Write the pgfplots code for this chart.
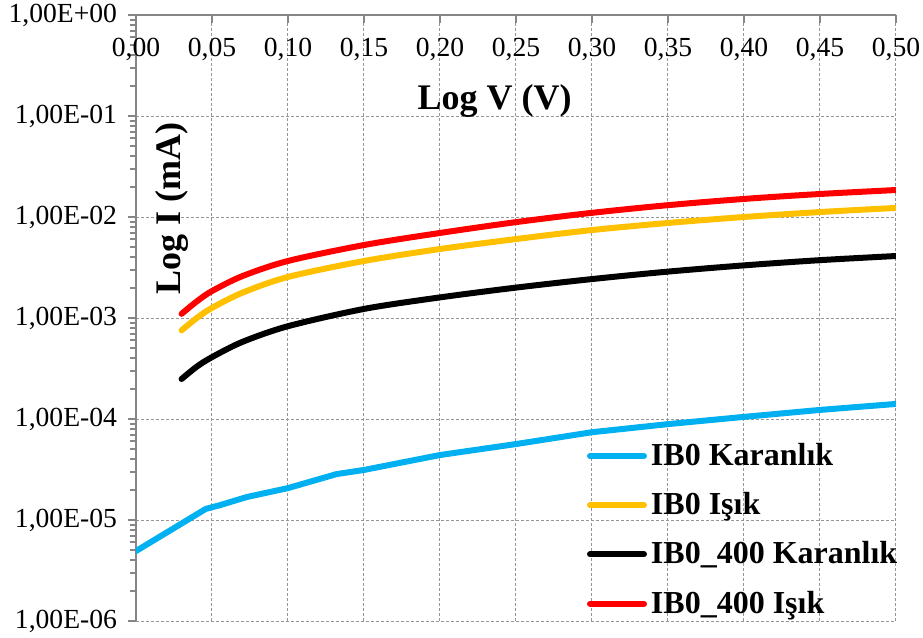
\documentclass[border=0pt]{standalone}
\usepackage{fontspec}
\setmainfont{Liberation Serif}
\usepackage{pgfplots}
\pgfplotsset{compat=1.18}

\definecolor{ibblue}{RGB}{0,176,240}
\definecolor{ibyellow}{RGB}{255,192,0}
\definecolor{ibred}{RGB}{255,0,0}
\definecolor{axisgray}{RGB}{134,134,134}
\definecolor{gridgray}{RGB}{150,150,150}

\begin{document}
\begin{tikzpicture}
\useasboundingbox (-68pt,-8.5pt) rectangle (393.5pt,310.5pt);
\begin{axis}[
  scale only axis,
  width=380pt, height=303pt,
  xmin=0, xmax=0.5,
  ymode=log, ymin=1e-6, ymax=1,
  axis x line*=top, axis y line*=left,
  x axis line style={-, axisgray, line width=1pt},
  y axis line style={-, axisgray, line width=1pt},
  xtick={0,0.05,0.1,0.15,0.2,0.25,0.3,0.35,0.4,0.45,0.5},
  xticklabels={{0,00},{0,05},{0,10},{0,15},{0,20},{0,25},{0,30},{0,35},{0,40},{0,45},{0,50}},
  ytick={1e-6,1e-5,1e-4,1e-3,1e-2,1e-1,1},
  yticklabels={{1,00E-06},{1,00E-05},{1,00E-04},{1,00E-03},{1,00E-02},{1,00E-01},{1,00E+00}},
  minor ytick={},
  xtick align=inside, ytick align=outside,
  major tick length=4pt,
  tick style={axisgray, line width=1pt},
  ticklabel style={font=\fontsize{13.8}{16}\selectfont},
  xticklabel style={anchor=north, yshift=-8pt},
  yticklabel style={xshift=-2pt},
  grid=major,
  grid style={gridgray, line width=0.5pt, dash pattern=on 1.5pt off 1pt},
  xlabel={\textbf{Log V (V)}},
  xlabel style={at={(rel axis cs:0.472,0.858)}, anchor=center, font=\fontsize{18}{21}\selectfont},
  ylabel={\textbf{Log I (mA)}},
  ylabel style={at={(rel axis cs:0.047,0.68)}, anchor=center, font=\fontsize{18}{21}\selectfont},
  legend style={at={(rel axis cs:0.585,0.307)}, anchor=north west, draw=none, fill=none,
    font=\fontsize{16}{19}\selectfont\bfseries, row sep=8pt},
  legend cell align=left,
  legend image code/.code={\draw[#1, line cap=round] (0pt,0pt) -- (27pt,0pt);},
  every axis plot/.append style={line width=3pt, line cap=round, line join=round},
]
\addplot[ibblue] table {
0     4.93e-6
0.046 1.29e-5
0.055 1.40e-5
0.073 1.69e-5
0.1   2.07e-5
0.132 2.85e-5
0.15  3.13e-5
0.2   4.40e-5
0.25  5.65e-5
0.3   7.40e-5
0.35  8.90e-5
0.4   1.05e-4
0.45  1.23e-4
0.5   1.41e-4
};
\addlegendentry{IB0 Karanlık}
\addplot[ibyellow, smooth] table {
0.03 7.55e-4
0.04 1.00e-3
0.05 1.26e-3
0.07 1.78e-3
0.1  2.55e-3
0.15 3.67e-3
0.2  4.82e-3
0.25 6.05e-3
0.3  7.43e-3
0.35 8.73e-3
0.4  1.00e-2
0.45 1.12e-2
0.5  1.23e-2
};
\addlegendentry{IB0 Işık}
\addplot[black, smooth] table {
0.03 2.49e-4
0.04 3.30e-4
0.05 4.10e-4
0.07 5.80e-4
0.1  8.30e-4
0.15 1.23e-3
0.2  1.60e-3
0.25 2.00e-3
0.3  2.43e-3
0.35 2.88e-3
0.4  3.32e-3
0.45 3.74e-3
0.5  4.11e-3
};
\addlegendentry{IB0\_400 Karanlık}
\addplot[ibred, smooth] table {
0.03 1.10e-3
0.04 1.46e-3
0.05 1.85e-3
0.07 2.60e-3
0.1  3.67e-3
0.15 5.28e-3
0.2  6.95e-3
0.25 8.90e-3
0.3  1.10e-2
0.35 1.31e-2
0.4  1.51e-2
0.45 1.69e-2
0.5  1.85e-2
};
\addlegendentry{IB0\_400 Işık}
\end{axis}
\end{tikzpicture}
\end{document}
